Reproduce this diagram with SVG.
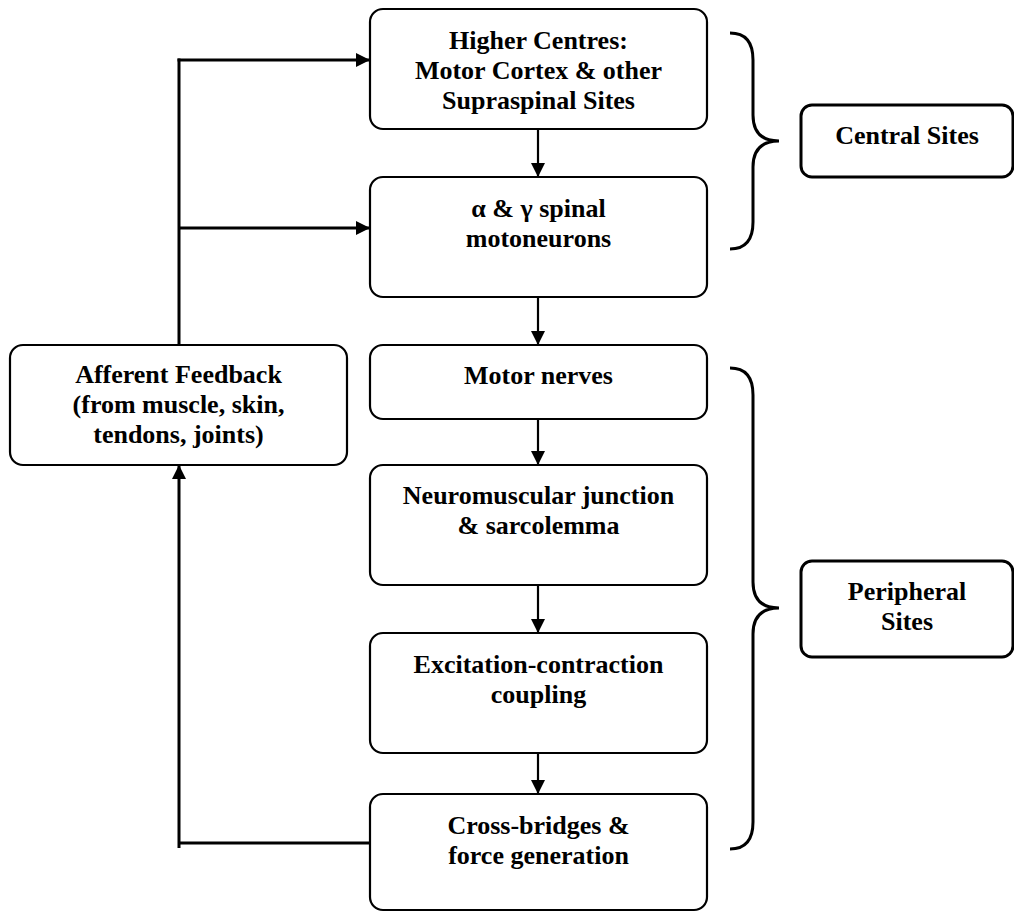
<svg xmlns="http://www.w3.org/2000/svg" width="1014" height="912" viewBox="0 0 1014 912">
<style>
.box{fill:#fff;stroke:#000;stroke-width:2.2}
.t{font-family:"Liberation Serif","Times New Roman",serif;font-weight:bold;font-size:26px;fill:#000;text-anchor:middle}
.ln{fill:none;stroke:#000;stroke-width:3}
.ln2{fill:none;stroke:#000;stroke-width:2.2}
.br{fill:none;stroke:#000;stroke-width:3}
</style>
<defs>
<marker id="ah" viewBox="0 0 10 10" refX="10" refY="5" markerWidth="15" markerHeight="14" markerUnits="userSpaceOnUse" orient="auto"><path d="M0,0 L10,5 L0,10 Z" fill="#000"/></marker>
</defs>
<rect width="1014" height="912" fill="#fff"/>
<g id="connectors">
<path class="ln" d="M179,345 L179,58.5"/>
<path class="ln" d="M177.5,60 L370,60" marker-end="url(#ah)"/>
<path class="ln" d="M179,228 L370,228" marker-end="url(#ah)"/>
<path class="ln" d="M370,843 L179,843"/>
<path class="ln" d="M179,848 L179,465" marker-end="url(#ah)"/>
<path class="ln2" d="M538,129 L538,177" marker-end="url(#ah)"/>
<path class="ln2" d="M538,297 L538,345" marker-end="url(#ah)"/>
<path class="ln2" d="M538,408 L538,465" marker-end="url(#ah)"/>
<path class="ln2" d="M538,585 L538,633" marker-end="url(#ah)"/>
<path class="ln2" d="M538,753 L538,794" marker-end="url(#ah)"/>
</g>
<g id="n1"><rect class="box" x="370" y="9" width="337" height="120" rx="13"/>
<text class="t" x="538.5" y="49">Higher Centres:</text><text class="t" x="538.5" y="79">Motor Cortex &amp; other</text><text class="t" x="538.5" y="109">Supraspinal Sites</text></g>
<g id="n2"><rect class="box" x="370" y="177" width="337" height="120" rx="13"/>
<text class="t" x="538.5" y="217">α &amp; γ spinal</text><text class="t" x="538.5" y="247">motoneurons</text></g>
<g id="n3"><rect class="box" x="370" y="345" width="337" height="74" rx="13"/>
<text class="t" x="538.5" y="384">Motor nerves</text></g>
<g id="n4"><rect class="box" x="370" y="465" width="337" height="120" rx="13"/>
<text class="t" x="538.5" y="504">Neuromuscular junction</text><text class="t" x="538.5" y="534">&amp; sarcolemma</text></g>
<g id="n5"><rect class="box" x="370" y="633" width="337" height="120" rx="13"/>
<text class="t" x="538.5" y="673">Excitation-contraction</text><text class="t" x="538.5" y="703">coupling</text></g>
<g id="n6"><rect class="box" x="370" y="794" width="337" height="116" rx="13"/>
<text class="t" x="538.5" y="834">Cross-bridges &amp;</text><text class="t" x="538.5" y="864">force generation</text></g>
<g id="afferent"><rect class="box" x="10" y="345" width="337" height="120" rx="13"/>
<text class="t" x="178.5" y="383">Afferent Feedback</text><text class="t" x="178.5" y="413">(from muscle, skin,</text><text class="t" x="178.5" y="443">tendons, joints)</text></g>
<g id="central-brace"><path class="br" d="M730,33 Q753,33 753,60 L753,115 Q753,141 779,141 Q753,141 753,167 L753,222 Q753,249 730,249"/></g>
<g id="central"><rect class="box" x="801" y="105" width="212" height="72" rx="11" style="stroke-width:3"/>
<text class="t" x="907" y="144">Central Sites</text></g>
<g id="peripheral-brace"><path class="br" d="M730,368 Q753,368 753,395 L753,582 Q753,608 779,608 Q753,608 753,634 L753,822 Q753,849 730,849"/></g>
<g id="peripheral"><rect class="box" x="801" y="561" width="212" height="96" rx="11" style="stroke-width:3"/>
<text class="t" x="907" y="600">Peripheral</text><text class="t" x="907" y="630">Sites</text></g>
</svg>
